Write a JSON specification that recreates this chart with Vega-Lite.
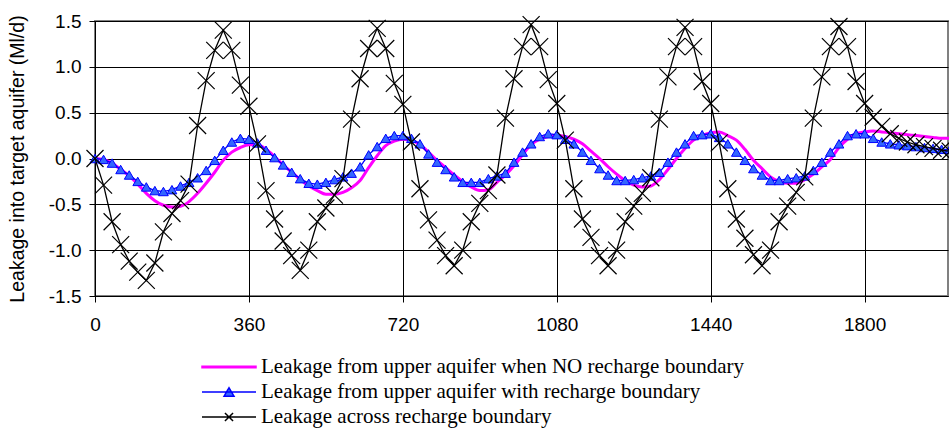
{
  "$schema": "https://vega.github.io/schema/vega-lite/v6.json",
  "width": 853,
  "height": 275,
  "autosize": {"type": "none"},
  "padding": {"left": 95, "top": 21, "right": 1, "bottom": 134},
  "background": "white",
  "data": {"values": [
    {"d":0,"p":0.00,"b":0.00,"k":0.00},{"d":20,"p":-0.01,"b":-0.01,"k":-0.29},{"d":40,"p":-0.05,"b":-0.05,"k":-0.69},{"d":60,"p":-0.12,"b":-0.12,"k":-0.94},{"d":80,"p":-0.19,"b":-0.18,"k":-1.12},{"d":100,"p":-0.28,"b":-0.25,"k":-1.24},{"d":120,"p":-0.38,"b":-0.31,"k":-1.33},{"d":140,"p":-0.46,"b":-0.35,"k":-1.14},{"d":160,"p":-0.51,"b":-0.36,"k":-0.80},{"d":180,"p":-0.53,"b":-0.34,"k":-0.60},
    {"d":200,"p":-0.52,"b":-0.30,"k":-0.46},{"d":220,"p":-0.47,"b":-0.26,"k":-0.28},{"d":240,"p":-0.38,"b":-0.21,"k":0.36},{"d":260,"p":-0.27,"b":-0.13,"k":0.85},{"d":280,"p":-0.15,"b":-0.02,"k":1.18},{"d":300,"p":-0.02,"b":0.09,"k":1.40},{"d":320,"p":0.07,"b":0.18,"k":1.18},{"d":340,"p":0.12,"b":0.22,"k":0.80},{"d":360,"p":0.15,"b":0.21,"k":0.57},{"d":380,"p":0.15,"b":0.17,"k":0.16},
    {"d":400,"p":0.10,"b":0.09,"k":-0.35},{"d":420,"p":0.02,"b":0.01,"k":-0.66},{"d":440,"p":-0.07,"b":-0.07,"k":-0.90},{"d":460,"p":-0.15,"b":-0.15,"k":-1.06},{"d":480,"p":-0.23,"b":-0.22,"k":-1.22},{"d":500,"p":-0.30,"b":-0.27,"k":-1.00},{"d":520,"p":-0.35,"b":-0.28,"k":-0.69},{"d":540,"p":-0.39,"b":-0.26,"k":-0.54},{"d":560,"p":-0.39,"b":-0.23,"k":-0.40},{"d":580,"p":-0.37,"b":-0.20,"k":-0.22},
    {"d":600,"p":-0.32,"b":-0.16,"k":0.43},{"d":620,"p":-0.24,"b":-0.09,"k":0.87},{"d":640,"p":-0.10,"b":0.04,"k":1.20},{"d":660,"p":0.03,"b":0.13,"k":1.42},{"d":680,"p":0.14,"b":0.22,"k":1.20},{"d":700,"p":0.19,"b":0.25,"k":0.82},{"d":720,"p":0.21,"b":0.25,"k":0.59},{"d":740,"p":0.20,"b":0.22,"k":0.18},{"d":760,"p":0.15,"b":0.16,"k":-0.33},{"d":780,"p":0.07,"b":0.05,"k":-0.67},
    {"d":800,"p":-0.02,"b":-0.04,"k":-0.89},{"d":820,"p":-0.10,"b":-0.12,"k":-1.06},{"d":840,"p":-0.18,"b":-0.20,"k":-1.17},{"d":860,"p":-0.25,"b":-0.26,"k":-1.00},{"d":880,"p":-0.31,"b":-0.26,"k":-0.69},{"d":900,"p":-0.35,"b":-0.26,"k":-0.49},{"d":920,"p":-0.34,"b":-0.22,"k":-0.35},{"d":940,"p":-0.26,"b":-0.19,"k":-0.18},{"d":960,"p":-0.18,"b":-0.16,"k":0.44},{"d":980,"p":-0.08,"b":-0.04,"k":0.87},
    {"d":1000,"p":0.04,"b":0.07,"k":1.22},{"d":1020,"p":0.15,"b":0.16,"k":1.46},{"d":1040,"p":0.21,"b":0.24,"k":1.22},{"d":1060,"p":0.24,"b":0.27,"k":0.86},{"d":1080,"p":0.25,"b":0.26,"k":0.60},{"d":1100,"p":0.24,"b":0.21,"k":0.20},{"d":1120,"p":0.21,"b":0.16,"k":-0.33},{"d":1140,"p":0.16,"b":0.07,"k":-0.66},{"d":1160,"p":0.08,"b":-0.02,"k":-0.86},{"d":1180,"p":0.00,"b":-0.11,"k":-1.06},
    {"d":1200,"p":-0.09,"b":-0.18,"k":-1.17},{"d":1220,"p":-0.17,"b":-0.24,"k":-1.00},{"d":1240,"p":-0.24,"b":-0.24,"k":-0.69},{"d":1260,"p":-0.29,"b":-0.23,"k":-0.52},{"d":1280,"p":-0.31,"b":-0.21,"k":-0.38},{"d":1300,"p":-0.30,"b":-0.19,"k":-0.21},{"d":1320,"p":-0.23,"b":-0.15,"k":0.43},{"d":1340,"p":-0.12,"b":-0.04,"k":0.89},{"d":1360,"p":0.00,"b":0.07,"k":1.22},{"d":1380,"p":0.11,"b":0.16,"k":1.43},
    {"d":1400,"p":0.20,"b":0.25,"k":1.22},{"d":1420,"p":0.25,"b":0.26,"k":0.84},{"d":1440,"p":0.28,"b":0.27,"k":0.60},{"d":1460,"p":0.29,"b":0.23,"k":0.17},{"d":1480,"p":0.25,"b":0.16,"k":-0.33},{"d":1500,"p":0.20,"b":0.07,"k":-0.66},{"d":1520,"p":0.10,"b":-0.02,"k":-0.87},{"d":1540,"p":-0.02,"b":-0.11,"k":-1.05},{"d":1560,"p":-0.11,"b":-0.18,"k":-1.17},{"d":1580,"p":-0.20,"b":-0.24,"k":-1.00},
    {"d":1600,"p":-0.25,"b":-0.24,"k":-0.69},{"d":1620,"p":-0.27,"b":-0.22,"k":-0.52},{"d":1640,"p":-0.27,"b":-0.21,"k":-0.37},{"d":1660,"p":-0.23,"b":-0.19,"k":-0.20},{"d":1680,"p":-0.17,"b":-0.13,"k":0.44},{"d":1700,"p":-0.09,"b":-0.04,"k":0.89},{"d":1720,"p":-0.01,"b":0.07,"k":1.22},{"d":1740,"p":0.12,"b":0.16,"k":1.44},{"d":1760,"p":0.21,"b":0.25,"k":1.22},{"d":1780,"p":0.27,"b":0.27,"k":0.84},
    {"d":1800,"p":0.29,"b":0.27,"k":0.60},{"d":1820,"p":0.30,"b":0.22,"k":0.45},{"d":1840,"p":0.29,"b":0.18,"k":0.35},{"d":1860,"p":0.28,"b":0.16,"k":0.27},{"d":1880,"p":0.27,"b":0.15,"k":0.22},{"d":1900,"p":0.26,"b":0.14,"k":0.18},{"d":1920,"p":0.25,"b":0.13,"k":0.15},{"d":1940,"p":0.24,"b":0.12,"k":0.13},{"d":1960,"p":0.23,"b":0.11,"k":0.11},{"d":1980,"p":0.22,"b":0.10,"k":0.09},
    {"d":2000,"p":0.22,"b":0.10,"k":0.08}
  ]},
  "encoding": {
    "x": {
      "field": "d", "type": "quantitative",
      "scale": {"domain": [0, 1995], "nice": false, "zero": false},
      "axis": {
        "values": [0, 360, 720, 1080, 1440, 1800],
        "title": null, "format": "d",
        "grid": true, "gridColor": "#000000", "gridWidth": 1,
        "domainColor": "#000000", "tickColor": "#000000", "tickSize": 6,
        "labelFlush": false, "labelPadding": 13
      }
    }
  },
  "layer": [
    {
      "mark": {"type": "line", "strokeWidth": 3, "interpolate": "monotone"},
      "encoding": {
        "y": {
          "field": "p", "type": "quantitative",
          "title": "Leakage into target aquifer (Ml/d)",
          "scale": {"domain": [-1.5, 1.5], "nice": false, "zero": false},
          "axis": {
            "values": [-1.5, -1, -0.5, 0, 0.5, 1, 1.5],
            "labelExpr": "replace(format(datum.value, '.1f'), '\u2212', '-')",
            "grid": true, "gridColor": "#000000", "gridWidth": 1,
            "domainColor": "#000000", "tickColor": "#000000", "tickSize": 6,
            "labelPadding": 8, "titlePadding": 21
          }
        },
        "color": {
          "datum": "Leakage from upper aquifer when NO recharge boundary",
          "type": "nominal",
          "title": null,
          "scale": {"domain": ["Leakage from upper aquifer when NO recharge boundary"], "range": ["#ff00ff"]},
          "legend": {
            "orient": "none", "direction": "vertical", "legendX": 106, "legendY": 318,
            "title": null, "padding": 0,
            "symbolType": "M-1,-0.03H1V0.03H-1Z", "symbolFillColor": "#ff00ff",
            "symbolSize": 2916, "symbolStrokeWidth": 1.5
          }
        }
      }
    },
    {
      "mark": {"type": "line", "color": "#0000ff", "strokeWidth": 1.3},
      "encoding": {
        "y": {"field": "b", "type": "quantitative", "title": "Leakage into target aquifer (Ml/d)"},
        "strokeDash": {
          "datum": "Leakage from upper aquifer with recharge boundary",
          "type": "nominal",
          "title": null,
          "scale": {"domain": ["Leakage from upper aquifer with recharge boundary"], "range": [[1, 0]]},
          "legend": {
            "orient": "none", "direction": "vertical", "legendX": 106, "legendY": 343,
            "title": null, "padding": 0,
            "symbolType": "M-1,0H1M0,-0.16L0.185,0.16L-0.185,0.16Z",
            "symbolFillColor": "#3366ff", "symbolStrokeColor": "#0000ff",
            "symbolSize": 2916, "symbolStrokeWidth": 1.5
          }
        }
      }
    },
    {
      "mark": {"type": "point", "shape": "triangle-up", "size": 95, "filled": true, "fill": "#3366ff", "stroke": "#0000ff", "strokeWidth": 1, "opacity": 1},
      "encoding": {
        "y": {"field": "b", "type": "quantitative", "title": "Leakage into target aquifer (Ml/d)"}
      }
    },
    {
      "mark": {"type": "line", "color": "#000000", "strokeWidth": 1.3},
      "encoding": {
        "y": {"field": "k", "type": "quantitative", "title": "Leakage into target aquifer (Ml/d)"},
        "opacity": {
          "datum": "Leakage across recharge boundary",
          "type": "nominal",
          "title": null,
          "scale": {"domain": ["Leakage across recharge boundary"], "range": [1]},
          "legend": {
            "orient": "none", "direction": "vertical", "legendX": 106, "legendY": 368,
            "title": null, "padding": 0,
            "symbolType": "M-1,0H1M-0.15,-0.15L0.15,0.15M-0.15,0.15L0.15,-0.15",
            "symbolFillColor": "transparent", "symbolStrokeColor": "#000000",
            "symbolSize": 2916, "symbolStrokeWidth": 1.5
          }
        }
      }
    },
    {
      "mark": {"type": "point", "shape": "M-1,-1L1,1M-1,1L1,-1", "size": 289, "filled": false, "stroke": "#000000", "strokeWidth": 1.2, "opacity": 1},
      "encoding": {
        "y": {"field": "k", "type": "quantitative", "title": "Leakage into target aquifer (Ml/d)"}
      }
    }
  ],
  "config": {
    "font": "Liberation Sans",
    "view": {"stroke": "#808080", "strokeWidth": 2},
    "axis": {
      "labelFont": "Liberation Sans", "labelFontSize": 19, "labelColor": "#000000",
      "titleFont": "Liberation Sans", "titleFontSize": 19.5, "titleFontWeight": "normal", "titleColor": "#000000",
      "domainWidth": 1, "tickWidth": 1
    },
    "legend": {
      "labelFont": "Liberation Serif", "labelFontSize": 21, "labelColor": "#000000", "labelLimit": 1000,
      "labelOffset": 4, "symbolOpacity": 1
    }
  }
}
